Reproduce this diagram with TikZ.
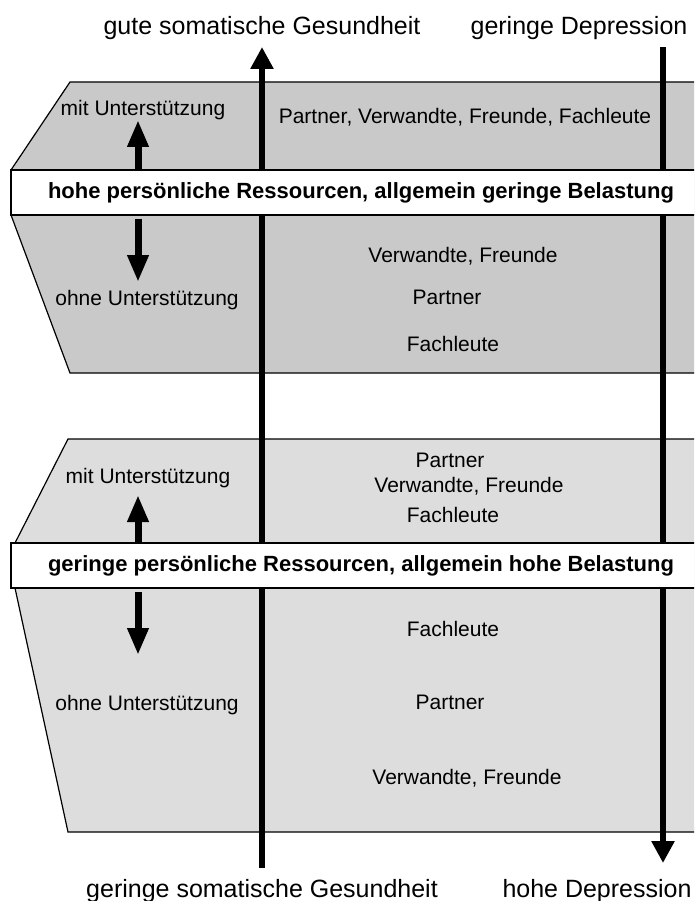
\documentclass[tikz,border=0pt]{standalone}
\usepackage{fontspec}
\setmainfont{Liberation Sans}
\usetikzlibrary{arrows.meta}

\definecolor{upperfill}{gray}{0.79}
\definecolor{lowerfill}{gray}{0.865}

\tikzset{
    block/.style={draw, line width=1.2pt, line join=miter},
    band/.style={draw, fill=white, line width=1.2pt, minimum width=700pt, minimum height=45pt,
        inner sep=0pt, font=\fontsize{22}{24}\selectfont\bfseries},
    txt/.style={anchor=base, inner sep=0pt, font=\fontsize{21}{24}\selectfont},
    axislbl/.style={anchor=base, inner sep=0pt, font=\fontsize{25}{30}\selectfont},
    axis/.style={line width=5.5pt, -{Triangle[length=22pt,width=22pt]}},
    dirarrow/.style={line width=7pt, -{Triangle[length=27pt,width=20pt]}},
}

\begin{document}
\begin{tikzpicture}[x=1pt, y=-1pt]
    \useasboundingbox (0, 0) rectangle (694, 901);
    \begin{scope}
    \clip (0, 0) rectangle (694, 901);

    % Blocks
    \filldraw[block, fill=upperfill] (70, 82) -- (710, 82) -- (710, 373) -- (70, 373)
        -- (11, 215) -- (11, 170) -- cycle;
    \filldraw[block, fill=lowerfill] (68, 439) -- (710, 439) -- (710, 832) -- (68, 832)
        -- (15, 588) -- (15, 543) -- cycle;

    % Axes
    \coordinate (somBot) at (262, 868);
    \coordinate (somTop) at (262, 47);
    \coordinate (depTop) at (663, 47);
    \coordinate (depBot) at (663, 863);
    \draw[axis] (somBot) -- (somTop);
    \draw[axis] (depTop) -- (depBot);
    \node[axislbl] (somHi) at (262, 35) {gute somatische Gesundheit};
    \node[axislbl] (depLo) at (579, 35) {geringe Depression};
    \node[axislbl] (somLo) at (262, 897) {geringe somatische Gesundheit};
    \node[axislbl] (depHi) at (597, 897) {hohe Depression};

    % Upper block
    \node[band] (band1) at (361, 192.5) {hohe persönliche Ressourcen, allgemein geringe Belastung};
    \coordinate (up1) at (138, 120);
    \coordinate (down1) at (138, 282);
    \draw[dirarrow] (band1.north -| up1) -- (up1);
    \draw[dirarrow] ([yshift=-3pt]band1.south -| down1) -- (down1);
    \node[txt] (mit1) at (143, 116) {mit Unterstützung};
    \node[txt] (ohne1) at (147, 305) {ohne Unterstützung};
    \node[txt] (all1) at (465, 124) {Partner, Verwandte, Freunde, Fachleute};
    \node[txt] (verw1) at (463, 262) {Verwandte, Freunde};
    \node[txt] (part1) at (447, 304) {Partner};
    \node[txt] (fach1) at (453, 351) {Fachleute};

    % Lower block
    \node[band] (band2) at (361, 565.5) {geringe persönliche Ressourcen, allgemein hohe Belastung};
    \coordinate (up2) at (138, 495);
    \coordinate (down2) at (138, 655);
    \draw[dirarrow] (band2.north -| up2) -- (up2);
    \draw[dirarrow] ([yshift=-3pt]band2.south -| down2) -- (down2);
    \node[txt] (mit2) at (148, 483) {mit Unterstützung};
    \node[txt] (ohne2) at (147, 710) {ohne Unterstützung};
    \node[txt] (part2) at (450, 467) {Partner};
    \node[txt] (verw2) at (469, 492) {Verwandte, Freunde};
    \node[txt] (fach2) at (453, 522) {Fachleute};
    \node[txt] (fach3) at (453, 636) {Fachleute};
    \node[txt] (part3) at (450, 709) {Partner};
    \node[txt] (verw3) at (467, 784) {Verwandte, Freunde};
    \end{scope}
\end{tikzpicture}
\end{document}
